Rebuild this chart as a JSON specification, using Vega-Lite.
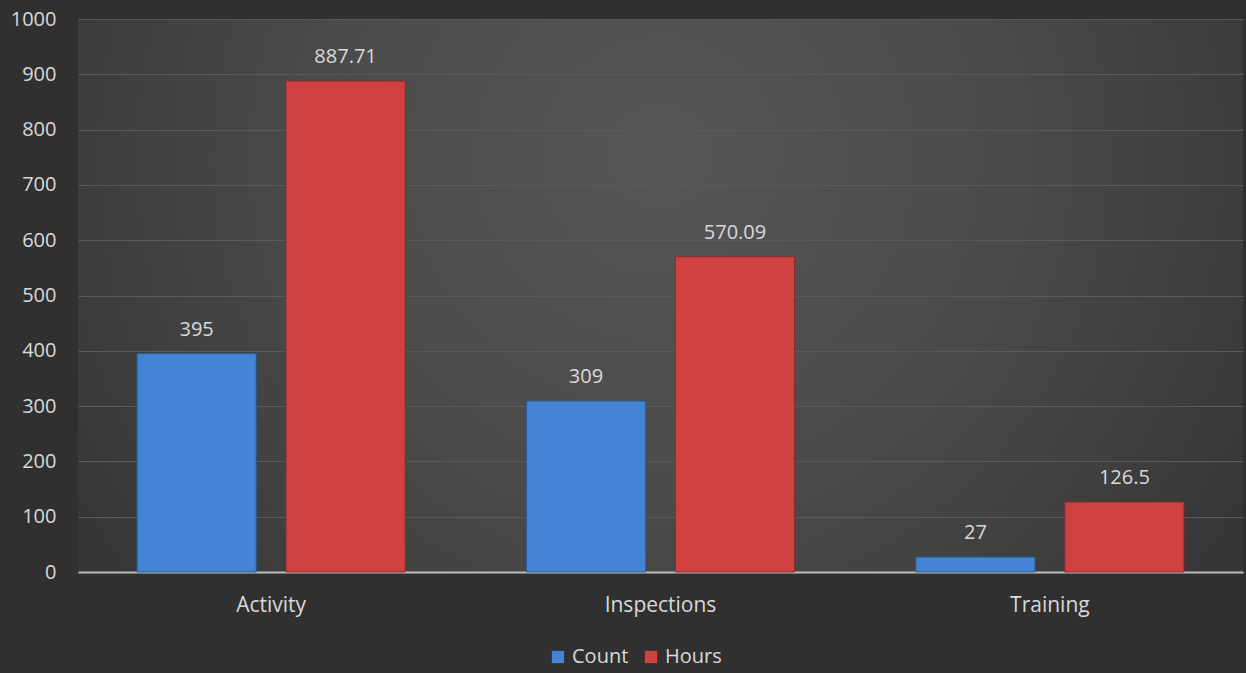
{
  "$schema": "https://vega.github.io/schema/vega-lite/v6.json",
  "width": 1165,
  "height": 553,
  "autosize": {"type": "none"},
  "padding": {"left": 78, "top": 19, "right": 3, "bottom": 101},
  "background": "#303030",
  "config": {
    "font": "Open Sans",
    "view": {"stroke": null, "fill": {"gradient": "radial", "x1": 0.5, "y1": 0.38, "r1": 0, "x2": 0.5, "y2": 0.38, "r2": 0.68, "stops": [{"offset": 0, "color": "#565656"}, {"offset": 0.45, "color": "#4a4a4a"}, {"offset": 1, "color": "#303030"}]}},
    "axis": {"labelFont": "Open Sans", "labelColor": "#d9d9d9", "labelFontSize": 20}
  },
  "data": {
    "values": [
      {"category": "Activity", "series": "Count", "value": 395},
      {"category": "Activity", "series": "Hours", "value": 887.71},
      {"category": "Inspections", "series": "Count", "value": 309},
      {"category": "Inspections", "series": "Hours", "value": 570.09},
      {"category": "Training", "series": "Count", "value": 27},
      {"category": "Training", "series": "Hours", "value": 126.5}
    ]
  },
  "encoding": {
    "x": {
      "field": "category",
      "type": "nominal",
      "sort": null,
      "scale": {"paddingInner": 0.3115, "paddingOuter": 0.1516},
      "axis": {"title": null, "labelAngle": 0, "ticks": false, "domain": true, "domainColor": "#bdbdbd", "domainWidth": 2, "labelPadding": 22, "labelFontSize": 21}
    },
    "xOffset": {"field": "series", "type": "nominal", "scale": {"paddingInner": 0.2, "paddingOuter": 0}},
    "y": {
      "field": "value",
      "type": "quantitative",
      "scale": {"domain": [0, 1000], "nice": false},
      "axis": {"title": null, "values": [0,100,200,300,400,500,600,700,800,900,1000], "format": "d", "labelOverlap": false, "ticks": false, "domain": false, "grid": true, "gridColor": "#5a5a5a", "gridWidth": 1, "labelPadding": 22}
    }
  },
  "layer": [
    {
      "mark": {"type": "bar", "strokeWidth": 1},
      "encoding": {
        "color": {
          "field": "series",
          "type": "nominal",
          "scale": {"domain": ["Count", "Hours"], "range": ["#4384d4", "#d04242"]},
          "legend": {"title": null, "orient": "none", "legendX": 470, "legendY": 628, "direction": "horizontal", "symbolType": "square", "symbolSize": 150, "labelFontSize": 20, "labelColor": "#d9d9d9", "labelFont": "Open Sans", "columnPadding": 12, "labelOffset": 4, "symbolStrokeWidth": 0}
        },
        "stroke": {
          "field": "series",
          "type": "nominal",
          "scale": {"domain": ["Count", "Hours"], "range": ["#2b5a93", "#8e2a2a"]},
          "legend": null
        }
      }
    },
    {
      "mark": {"type": "text", "baseline": "bottom", "dy": -14, "fontSize": 20, "color": "#d9d9d9", "font": "Open Sans"},
      "encoding": {"text": {"field": "value", "type": "quantitative"}}
    }
  ]
}
